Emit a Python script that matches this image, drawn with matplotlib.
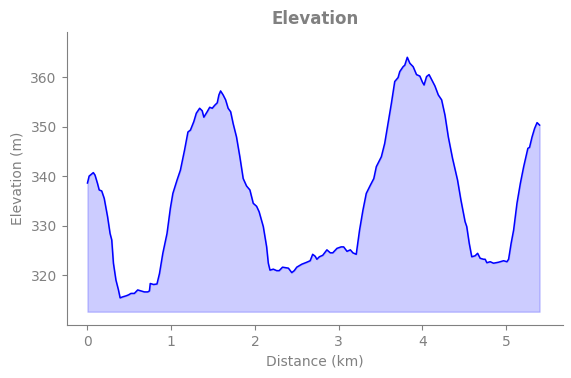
import matplotlib
matplotlib.use("Agg")
import matplotlib.pyplot as plt

# distance along the route (km) and elevation (m)
distance = [0.00, 0.02, 0.07, 0.09, 0.12, 0.14, 0.17, 0.20, 0.24, 0.27, 0.29, 0.31,
            0.34, 0.37, 0.39, 0.42, 0.46, 0.49, 0.52, 0.56, 0.60, 0.64, 0.68, 0.72,
            0.74, 0.75, 0.79, 0.83, 0.86, 0.90, 0.95, 0.99, 1.02, 1.07, 1.11, 1.16,
            1.20, 1.23, 1.27, 1.30, 1.34, 1.37, 1.39, 1.43, 1.46, 1.49, 1.52, 1.55,
            1.57, 1.59, 1.62, 1.65, 1.68, 1.71, 1.74, 1.78, 1.82, 1.86, 1.90, 1.94,
            1.98, 2.02, 2.05, 2.10, 2.14, 2.16, 2.18, 2.22, 2.26, 2.29, 2.33, 2.40,
            2.44, 2.47, 2.50, 2.56, 2.62, 2.66, 2.69, 2.72, 2.74, 2.77, 2.81, 2.86,
            2.90, 2.93, 2.98, 3.03, 3.06, 3.10, 3.14, 3.17, 3.21, 3.25, 3.29, 3.33,
            3.38, 3.42, 3.45, 3.51, 3.55, 3.59, 3.63, 3.67, 3.71, 3.73, 3.77, 3.79,
            3.82, 3.85, 3.89, 3.93, 3.97, 4.00, 4.02, 4.05, 4.08, 4.11, 4.15, 4.19,
            4.23, 4.27, 4.31, 4.36, 4.42, 4.46, 4.51, 4.53, 4.56, 4.59, 4.63, 4.66,
            4.69, 4.73, 4.75, 4.77, 4.81, 4.85, 4.91, 4.97, 5.01, 5.03, 5.06, 5.09,
            5.13, 5.17, 5.21, 5.26, 5.28, 5.31, 5.34, 5.37, 5.40]
elevation = [338.6, 340.0, 340.7, 340.2, 338.5, 337.2, 337.0, 335.5, 331.8, 328.4, 327.1, 322.4,
             319.0, 317.0, 315.4, 315.6, 315.8, 316.0, 316.3, 316.3, 317.0, 316.8, 316.6, 316.6,
             316.8, 318.3, 318.1, 318.2, 320.3, 324.4, 328.4, 333.5, 336.5, 339.2, 341.2, 345.3,
             348.9, 349.3, 351.0, 352.7, 353.7, 353.2, 351.9, 353.0, 353.9, 353.7, 354.3, 354.8,
             356.4, 357.2, 356.4, 355.4, 353.7, 353.0, 350.6, 347.9, 343.9, 339.5, 338.0, 337.2,
             334.5, 333.9, 332.8, 329.8, 325.7, 322.4, 321.0, 321.2, 320.9, 320.9, 321.6, 321.4,
             320.5, 320.9, 321.6, 322.2, 322.6, 322.9, 324.2, 323.8, 323.2, 323.7, 324.0, 325.1,
             324.5, 324.5, 325.4, 325.7, 325.7, 324.8, 325.1, 324.5, 324.2, 329.1, 333.1, 336.5,
             338.2, 339.5, 341.9, 343.9, 346.6, 350.6, 354.7, 359.1, 359.9, 361.1, 362.1, 362.4,
             364.0, 362.8, 362.1, 360.5, 360.2, 359.0, 358.4, 360.1, 360.5, 359.5, 358.2, 356.4,
             355.4, 352.3, 347.9, 343.6, 339.2, 335.2, 330.8, 329.8, 326.4, 323.7, 323.9, 324.4,
             323.4, 323.2, 323.2, 322.5, 322.7, 322.4, 322.6, 322.9, 322.7, 323.2, 326.4, 329.1,
             334.5, 338.5, 341.9, 345.6, 345.8, 347.9, 349.6, 350.8, 350.3]
base = 312.6

fig = plt.figure(figsize=(5.71, 3.78), dpi=100)
ax = fig.add_axes([0.1165, 0.140, 0.8695, 0.7753])

ax.fill_between(distance, elevation, base, color="blue", alpha=0.2)
ax.plot(distance, elevation, color="blue", lw=1.1)

ax.set_xlim(-0.25, 5.68)
ax.set_ylim(309.9, 369.1)
ax.set_yticks([320, 330, 340, 350, 360])

ax.set_title("Elevation", color="gray", fontweight="bold", fontsize=12)
ax.set_xlabel("Distance (km)", color="gray")
ax.set_ylabel("Elevation (m)", color="gray")

ax.spines["top"].set_visible(False)
ax.spines["right"].set_visible(False)
ax.spines["left"].set_color("gray")
ax.spines["bottom"].set_color("gray")
ax.tick_params(colors="gray")

fig.savefig("out.png", dpi=100)
